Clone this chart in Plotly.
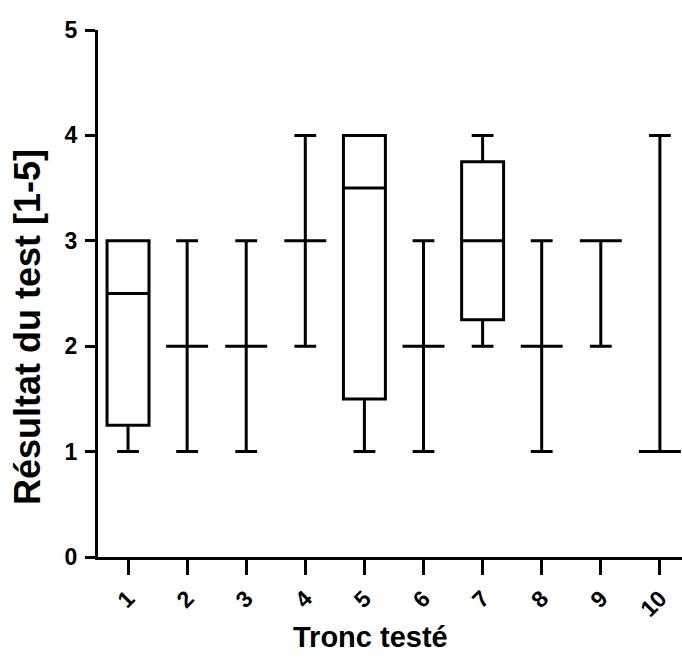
import plotly.graph_objects as go

categories = [1, 2, 3, 4, 5, 6, 7, 8, 9, 10]
lower = [1, 1, 1, 2, 1, 1, 2, 1, 2, 1]
q1 = [1.25, 2, 2, 3, 1.5, 2, 2.25, 2, 3, 1]
median = [2.5, 2, 2, 3, 3.5, 2, 3, 2, 3, 1]
q3 = [3, 2, 2, 3, 4, 2, 3.75, 2, 3, 1]
upper = [3, 3, 3, 4, 4, 3, 4, 3, 3, 4]
y_ticks = [0, 1, 2, 3, 4, 5]
x_title = "Tronc testé"
y_title = "Résultat du test [1-5]"

font_family = "Liberation Sans, Arial, sans-serif"
W, H = 682, 660
L, R, T, B = 98, 0, 30, 103

fig = go.Figure()
fig.add_trace(go.Box(
    x=categories, q1=q1, median=median, q3=q3,
    lowerfence=lower, upperfence=upper,
    fillcolor="white", line=dict(color="black", width=3),
    width=0.71, whiskerwidth=0.52, boxpoints=False, showlegend=False,
    hoverinfo="skip",
))

pw, ph = W - L - R, H - T - B
fig.add_annotation(text=x_title, xref="paper", yref="paper",
                   x=(370 - L) / pw, y=(H - B - 637) / ph,
                   xanchor="center", yanchor="middle", showarrow=False,
                   font=dict(size=29, family=font_family, weight="bold", color="black"))
fig.add_annotation(text=y_title, xref="paper", yref="paper", textangle=-90,
                   x=(28 - L) / pw, y=(H - B - 327) / ph,
                   xanchor="center", yanchor="middle", showarrow=False,
                   font=dict(size=36, family=font_family, weight="bold", color="black"))

fig.update_layout(
    width=W, height=H,
    margin=dict(l=L, r=R, t=T, b=B, autoexpand=False),
    plot_bgcolor="white", paper_bgcolor="white",
    font=dict(family=font_family, color="black"),
    xaxis=dict(
        range=[0.492, 10.374], tickmode="array", tickvals=categories,
        ticktext=[str(c) for c in categories], tickangle=-45,
        ticks="outside", ticklen=15, tickwidth=3, tickcolor="black",
        showline=True, linewidth=3, linecolor="black", showgrid=False, zeroline=False,
        tickfont=dict(size=23, family=font_family, weight="bold"),
        ticklabelstandoff=1,
    ),
    yaxis=dict(
        range=[0, 5], tickmode="array", tickvals=y_ticks,
        ticks="outside", ticklen=10, tickwidth=3, tickcolor="black",
        showline=True, linewidth=3, linecolor="black", showgrid=False, zeroline=False,
        tickfont=dict(size=23, family=font_family, weight="bold"),
        ticklabelstandoff=3,
    ),
)

fig.write_html("out.html", config={"displayModeBar": False},
               post_script="document.body.style.margin='0';document.body.style.overflow='hidden';")
